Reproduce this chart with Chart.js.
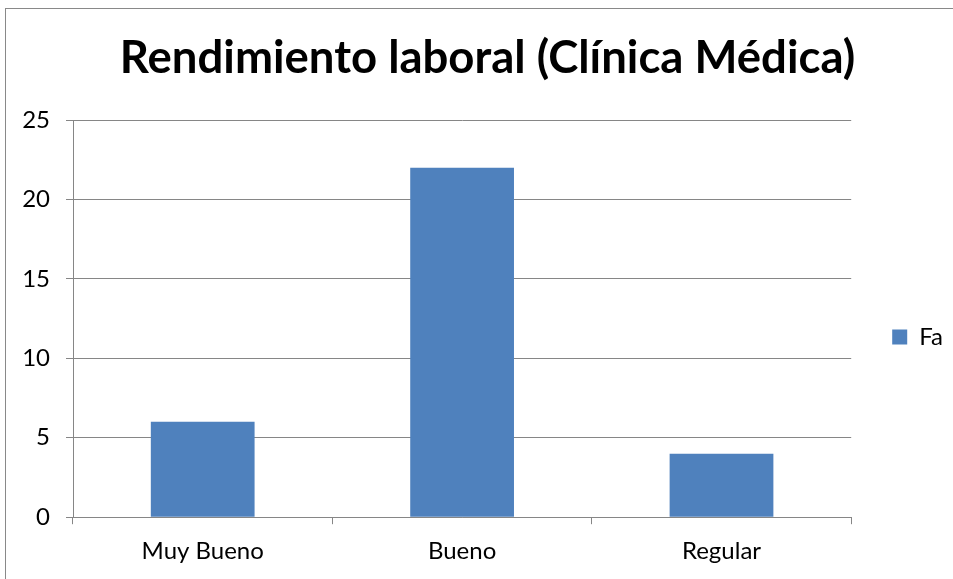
<!DOCTYPE html>
<html>
<head>
<meta charset="utf-8">
<script src="https://cdn.jsdelivr.net/npm/chart.js@4.4.0/dist/chart.umd.min.js"></script>
<style>
  html, body { margin: 0; padding: 0; background: #fff; overflow: hidden; }
  #caja { position: relative; width: 953px; height: 579px; }
  #marco { position: absolute; left: 5px; top: 8px; width: 960px; height: 600px;
           border-left: 1px solid #898989; border-top: 1px solid #898989; }
  canvas { position: absolute; left: 0; top: 0; }
</style>
</head>
<body>
<div id="caja">
  <div id="marco"></div>
  <canvas id="grafico" width="953" height="579"></canvas>
</div>
<script>
// datos del grafico
const categorias = ['Muy Bueno', 'Bueno', 'Regular'];
const valoresFa = [6, 22, 4];
const ejeY = { min: 0, max: 25, paso: 5 };

const gris = '#868686';
const fuente = 'Lato';

const ctx = document.getElementById('grafico').getContext('2d');
new Chart(ctx, {
    type: 'bar',
    data: {
        labels: categorias,
        datasets: [{
            label: 'Fa',
            data: valoresFa,
            backgroundColor: '#4f81bd',
            borderWidth: 0,
            categoryPercentage: 1,
            barPercentage: 0.4
        }]
    },
    options: {
        responsive: false,
        animation: false,
        layout: { padding: { left: 22, right: 0, top: 0, bottom: 0 } },
        plugins: {
            title: {
                display: true,
                text: 'Rendimiento laboral (Clínica Médica)',
                color: '#000',
                font: { family: fuente, size: 45.5, weight: 'bold' },
                padding: { top: 31, bottom: 34.4 }
            },
            legend: {
                position: 'right',
                fullSize: false,
                // titulo vacio solo para bajar la leyenda
                title: { display: true, text: '', font: { size: 10, lineHeight: 3.7 }, padding: 0 },
                labels: {
                    boxWidth: 15,
                    boxHeight: 15,
                    padding: 41,
                    color: '#000',
                    font: { family: fuente, size: 24 }
                }
            },
            tooltip: { enabled: false }
        },
        scales: {
            x: {
                grid: { drawOnChartArea: false, color: gris, tickLength: 7, offset: true },
                border: { color: gris },
                ticks: { color: '#000', padding: 13, font: { family: fuente, size: 24 } }
            },
            y: {
                min: ejeY.min,
                max: ejeY.max,
                grid: { color: gris, tickLength: 7 },
                border: { color: gris },
                ticks: { stepSize: ejeY.paso, color: '#000', padding: 16, font: { family: fuente, size: 24 } },
                afterFit: (scale) => { scale.width = 51; }
            }
        }
    }
});
</script>
</body>
</html>
